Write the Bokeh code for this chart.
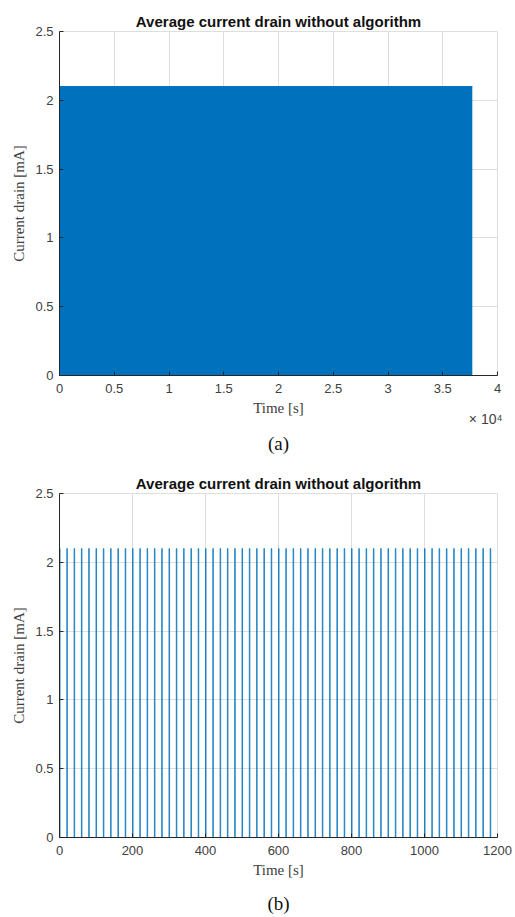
from bokeh.plotting import figure
from bokeh.layouts import column
from bokeh.models import Title, FixedTicker, Range1d, LinearAxis
from bokeh.embed import file_html
from bokeh.resources import INLINE

# ---------------- data ----------------
TITLE = "Average current drain without algorithm"
Y_LABEL = "Current drain [mA]"
X_LABEL = "Time [s]"
X_EXPONENT = "× 10⁴"

# (a) whole run: pulse train so dense it renders as a solid block
top_time = [0, 37700]
top_current = [2.1, 2.1]
top_xticks = [0, 5000, 10000, 15000, 20000, 25000, 30000, 35000, 40000]
top_xtick_labels = ["0", "0.5", "1", "1.5", "2", "2.5", "3", "3.5", "4"]

# (b) first 1200 s: one current pulse every 20 s
spike_times = [0, 20, 40, 60, 80, 100, 120, 140, 160, 180,
               200, 220, 240, 260, 280, 300, 320, 340, 360, 380,
               400, 420, 440, 460, 480, 500, 520, 540, 560, 580,
               600, 620, 640, 660, 680, 700, 720, 740, 760, 780,
               800, 820, 840, 860, 880, 900, 920, 940, 960, 980,
               1000, 1020, 1040, 1060, 1080, 1100, 1120, 1140, 1160, 1180]
spike_peak = 2.1
spike_width = 1.5
bottom_xticks = [0, 200, 400, 600, 800, 1000, 1200]
bottom_xtick_labels = ["0", "200", "400", "600", "800", "1000", "1200"]

y_ticks = [0, 0.5, 1, 1.5, 2, 2.5]
y_tick_labels = ["0", "0.5", "1", "1.5", "2", "2.5"]

BLUE = "#0072BD"
AXIS = "#262626"
GRID = "#dedede"
TEXT = "#404040"


def make_fig(height, btop, bbottom, xmax, xticks, xlabels, caption,
             cap_standoff, exponent=None):
    p = figure(width=515, height=height, output_backend="svg",
               toolbar_location=None,
               x_range=Range1d(0, xmax), y_range=Range1d(0, 2.5),
               min_border_left=59, min_border_right=18,
               min_border_top=btop, min_border_bottom=bbottom)
    p.background_fill_color = "white"
    p.border_fill_color = "white"
    p.outline_line_color = GRID

    p.title.text = TITLE
    p.title.align = "center"
    p.title.text_font = "Liberation Sans"
    p.title.text_font_size = "15px"
    p.title.text_font_style = "bold"
    p.title.text_color = "#111111"
    p.title.standoff = 4

    p.xaxis.ticker = FixedTicker(ticks=xticks)
    p.xaxis.major_label_overrides = {t: l for t, l in zip(xticks, xlabels)}
    p.yaxis.ticker = FixedTicker(ticks=y_ticks)
    p.yaxis.major_label_overrides = {t: l for t, l in zip(y_ticks, y_tick_labels)}
    p.xgrid.ticker = FixedTicker(ticks=xticks)
    p.ygrid.ticker = FixedTicker(ticks=y_ticks)
    p.grid.grid_line_color = GRID

    for ax in (p.xaxis, p.yaxis):
        ax.axis_line_color = AXIS
        ax.major_tick_line_color = AXIS
        ax.major_tick_in = 4
        ax.major_tick_out = 0
        ax.minor_tick_line_color = None
        ax.major_label_text_font = "Liberation Sans"
        ax.major_label_text_font_size = "13px"
        ax.major_label_text_color = TEXT
        ax.axis_label_text_font = "Liberation Serif"
        ax.axis_label_text_font_size = "15px"
        ax.axis_label_text_font_style = "normal"
        ax.axis_label_text_color = TEXT

    p.xaxis.axis_label = X_LABEL
    p.yaxis.axis_label = Y_LABEL
    p.xaxis.major_label_standoff = 8
    p.xaxis.axis_label_standoff = 4
    p.yaxis.major_label_standoff = 6
    p.yaxis.axis_label_standoff = 5

    if exponent is not None:
        # zero-height panel: text centred on the bottom edge of the axis panel
        p.add_layout(Title(text=exponent, align="right", offset=-5,
                           vertical_align="middle",
                           text_font="Liberation Sans", text_font_size="14px",
                           text_font_style="normal", text_color=TEXT,
                           standoff=-18), "below")

    # sub-figure caption, drawn as the label of a bare axis
    cap = LinearAxis(ticker=FixedTicker(ticks=[]), axis_label=caption,
                     axis_line_color=None, major_tick_line_color=None,
                     minor_tick_line_color=None,
                     major_tick_in=0, major_tick_out=0,
                     minor_tick_in=0, minor_tick_out=0,
                     major_label_standoff=0,
                     axis_label_standoff=cap_standoff,
                     axis_label_text_font="Liberation Serif",
                     axis_label_text_font_size="19px",
                     axis_label_text_font_style="normal",
                     axis_label_text_color="#111111")
    p.add_layout(cap, "below")
    return p


# ---------------- (a) ----------------
p1 = make_fig(458, 31, 83, 40000, top_xticks, top_xtick_labels, "(a)",
              14, X_EXPONENT)
p1.varea(x=top_time, y1=[0, 0], y2=top_current, fill_color=BLUE)
p1.line(x=top_time, y=top_current, line_color=BLUE, line_width=1)

# ---------------- (b) ----------------
xs, ys = [], []
for t in spike_times:
    xs += [t, t, t + spike_width, t + spike_width]
    ys += [0, spike_peak, spike_peak, 0]
xs.append(1200)
ys.append(0)

p2 = make_fig(459, 35, 80, 1200, bottom_xticks, bottom_xtick_labels, "(b)",
              12)
p2.line(x=xs, y=ys, line_color=BLUE, line_width=1, line_alpha=0.8)

layout = column(p1, p2, spacing=0)
open("out.html", "w").write(file_html(layout, INLINE))
